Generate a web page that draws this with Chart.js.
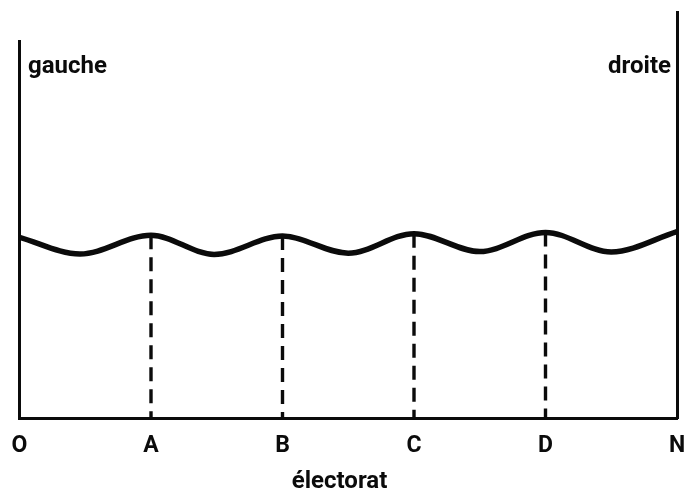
<!DOCTYPE html>
<html>
<head>
<meta charset="utf-8">
<script src="https://cdn.jsdelivr.net/npm/chart.js@4.4.1/dist/chart.umd.min.js"></script>
<style>
  html, body { margin: 0; padding: 0; background: #ffffff; }
  #wrap { width: 684px; height: 491px; position: relative; }
</style>
</head>
<body>
<div id="wrap"><canvas id="c" width="684" height="491"></canvas></div>
<script>
// ---- data ----
const tickValues = [0, 1, 2, 3, 4, 5];
const tickLabels = ['O', 'A', 'B', 'C', 'D', 'N'];
const waveX = [0, 0.46, 1, 1.48, 2, 2.5, 3, 3.5, 4, 4.5, 5];
const waveY = [44.5, 40.4, 45.0, 40.3, 44.8, 40.6, 45.4, 41.0, 45.7, 40.9, 45.9];
const markerX = [1, 2, 3, 4];          // A, B, C, D
const markerTop = [45.0, 44.8, 45.4, 45.7];
const leftAxisTop = 93.1;
const axisTitle = 'électorat';
const leftLabel = 'gauche';
const rightLabel = 'droite';

const INK = '#0b0b0b';
const FONT = 'Roboto';

const datasets = [];
datasets.push({
  data: waveX.map((x, i) => ({ x: x, y: waveY[i] })),
  borderColor: INK,
  borderWidth: 5.5,
  pointRadius: 0,
  cubicInterpolationMode: 'monotone',
  fill: false,
  clip: false
});
markerX.forEach((x, i) => {
  datasets.push({
    data: [{ x: x, y: markerTop[i] }, { x: x, y: 0 }],
    borderColor: INK,
    borderWidth: 3.4,
    borderDash: [14, 8],
    pointRadius: 0,
    fill: false
  });
});
datasets.push({
  data: [{ x: 0, y: 0 }, { x: 0, y: leftAxisTop }],
  borderColor: INK,
  borderWidth: 3,
  pointRadius: 0,
  fill: false,
  clip: false
});

const sideLabels = {
  id: 'sideLabels',
  afterDraw(chart) {
    const ctx = chart.ctx;
    const a = chart.chartArea;
    ctx.save();
    ctx.fillStyle = INK;
    ctx.font = 'bold 24px ' + FONT;
    ctx.textBaseline = 'alphabetic';
    ctx.textAlign = 'left';
    ctx.fillText(leftLabel, a.left + 8.5, a.top + 61);
    ctx.textAlign = 'right';
    ctx.fillText(rightLabel, a.right - 6, a.top + 61);
    ctx.textAlign = 'center';
    ctx.fillText(axisTitle, a.left + 320, a.bottom + 70);
    ctx.restore();
  }
};

new Chart(document.getElementById('c'), {
  type: 'line',
  data: { datasets: datasets },
  plugins: [sideLabels],
  options: {
    responsive: false,
    animation: false,
    events: [],
    layout: { padding: { left: 19.5, right: 7, top: 12, bottom: 0 } },
    plugins: { legend: { display: false }, tooltip: { enabled: false } },
    scales: {
      x: {
        type: 'linear',
        min: 0, max: 5,
        afterBuildTicks(scale) { scale.ticks = tickValues.map(v => ({ value: v })); },
        afterFit(scale) { scale.height = 73; scale.paddingLeft = 0; scale.paddingRight = 0; },
        grid: { display: false, drawTicks: false },
        border: { display: true, color: INK, width: 3 },
        ticks: {
          color: INK,
          padding: 14,
          maxRotation: 0,
          autoSkip: false,
          font: { family: FONT, weight: 'bold', size: 23 },
          callback: (v) => tickLabels[tickValues.indexOf(v)]
        },
        title: { display: false }
      },
      y: {
        type: 'linear',
        position: 'right',
        min: 0, max: 100,
        afterFit(scale) { scale.width = 0; },
        grid: { display: false, drawTicks: false },
        border: { display: true, color: INK, width: 3 },
        ticks: { display: false }
      }
    }
  }
});
</script>
</body>
</html>
